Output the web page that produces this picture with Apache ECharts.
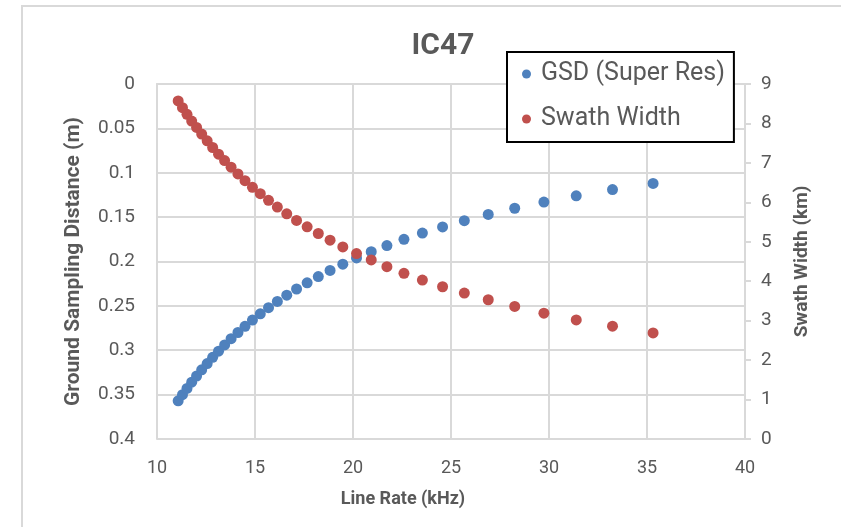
<!DOCTYPE html>
<html>
<head>
<meta charset="utf-8">
<script src="https://cdn.jsdelivr.net/npm/echarts@6/dist/echarts.min.js"></script>
<style>
html,body{margin:0;padding:0;background:#fff;}
#chart{width:841px;height:527px;}
</style>
</head>
<body>
<div id="chart"></div>
<script>
// Line rate (kHz) for each sample
var lineRate = [11.08, 11.30, 11.53, 11.77, 12.02, 12.28, 12.56, 12.84, 13.14, 13.45,
  13.78, 14.13, 14.49, 14.87, 15.27, 15.69, 16.14, 16.62, 17.12, 17.66,
  18.23, 18.83, 19.48, 20.18, 20.93, 21.73, 22.60, 23.54, 24.57, 25.68,
  26.90, 28.25, 29.74, 31.39, 33.24, 35.31];
// Ground sampling distance (m), Super Res
var gsd = [0.357, 0.350, 0.343, 0.336, 0.329, 0.322, 0.315, 0.308, 0.301, 0.294,
  0.287, 0.280, 0.273, 0.266, 0.259, 0.252, 0.245, 0.238, 0.231, 0.224,
  0.217, 0.210, 0.203, 0.196, 0.189, 0.182, 0.175, 0.168, 0.161, 0.154,
  0.147, 0.140, 0.133, 0.126, 0.119, 0.112];
// Swath width (km)
var swath = [8.57, 8.40, 8.23, 8.06, 7.90, 7.73, 7.56, 7.39, 7.22, 7.06,
  6.89, 6.72, 6.55, 6.38, 6.22, 6.05, 5.88, 5.71, 5.54, 5.38,
  5.21, 5.04, 4.87, 4.70, 4.54, 4.37, 4.20, 4.03, 3.86, 3.70,
  3.53, 3.36, 3.19, 3.02, 2.86, 2.69];

var seriesNames = ['GSD (Super Res)', 'Swath Width'];
var titleText = 'IC47';
var xName = 'Line Rate (kHz)';
var yLeftName = 'Ground Sampling Distance (m)';
var yRightName = 'Swath Width (km)';

var FONT = 'Roboto, "Liberation Sans", sans-serif';
var TXT = '#595959';
var GRID = '#d9d9d9';

function pairs(xs, ys) {
  return xs.map(function (x, i) { return [x, ys[i]]; });
}

var chart = echarts.init(document.getElementById('chart'), null, {renderer: 'canvas'});
chart.setOption({
  animation: false,
  backgroundColor: '#fff',
  textStyle: {fontFamily: FONT},
  graphic: [{
    type: 'rect', z: -10, silent: true,
    shape: {x: 22, y: 6, width: 900, height: 600},
    style: {fill: 'none', stroke: GRID, lineWidth: 2}
  }],
  title: {
    text: titleText,
    left: 438, top: 26, textAlign: 'center',
    textStyle: {fontFamily: FONT, fontSize: 30, fontWeight: 'bold', color: TXT}
  },
  legend: {
    orient: 'vertical',
    left: 507, top: 52,
    backgroundColor: '#fff',
    borderColor: '#000', borderWidth: 2, borderRadius: 0,
    padding: [9, 9, 10, 15],
    itemGap: 19,
    itemWidth: 9, itemHeight: 9,
    icon: 'circle',
    textStyle: {fontFamily: FONT, fontSize: 25, color: TXT, lineHeight: 26, padding: [0, 0, 0, 5]},
    data: seriesNames
  },
  grid: {left: 157, right: 96, top: 84, bottom: 88, containLabel: false},
  xAxis: {
    type: 'value', min: 10, max: 40, interval: 5,
    name: xName, nameLocation: 'middle', nameGap: 51,
    nameTextStyle: {fontFamily: FONT, fontSize: 18, fontWeight: 'bold', color: TXT, padding: [0, 96, 0, 0]},
    axisLine: {show: true, lineStyle: {color: GRID, width: 2}},
    axisTick: {show: false},
    axisLabel: {fontFamily: FONT, fontSize: 18, color: TXT, margin: 20},
    splitLine: {show: true, lineStyle: {color: GRID, width: 2}}
  },
  yAxis: [{
    type: 'value', min: 0, max: 0.4, interval: 0.05, inverse: true, position: 'left',
    name: yLeftName, nameLocation: 'middle', nameGap: 73, nameRotate: 90,
    nameTextStyle: {fontFamily: FONT, fontSize: 21, fontWeight: 'bold', color: TXT},
    axisLine: {show: true, lineStyle: {color: GRID, width: 2}},
    axisTick: {show: false},
    axisLabel: {fontFamily: FONT, fontSize: 19, color: TXT, margin: 22},
    splitLine: {show: true, lineStyle: {color: GRID, width: 2}}
  }, {
    type: 'value', min: 0, max: 9, interval: 1, position: 'right',
    name: yRightName, nameLocation: 'middle', nameGap: 48, nameRotate: 90,
    nameTextStyle: {fontFamily: FONT, fontSize: 19, fontWeight: 'bold', color: TXT},
    axisLine: {show: true, onZero: false, lineStyle: {color: GRID, width: 2}},
    axisTick: {show: true, inside: false, length: 6, lineStyle: {color: GRID, width: 2}},
    axisLabel: {fontFamily: FONT, fontSize: 19, color: TXT, margin: 16},
    splitLine: {show: false}
  }],
  series: [{
    name: seriesNames[0], type: 'scatter', xAxisIndex: 0, yAxisIndex: 0,
    symbol: 'circle', symbolSize: 11,
    itemStyle: {color: '#4F81BD', opacity: 1},
    data: pairs(lineRate, gsd)
  }, {
    name: seriesNames[1], type: 'scatter', xAxisIndex: 0, yAxisIndex: 1,
    symbol: 'circle', symbolSize: 11,
    itemStyle: {color: '#C0504D', opacity: 1},
    data: pairs(lineRate, swath)
  }]
});
</script>
</body>
</html>
